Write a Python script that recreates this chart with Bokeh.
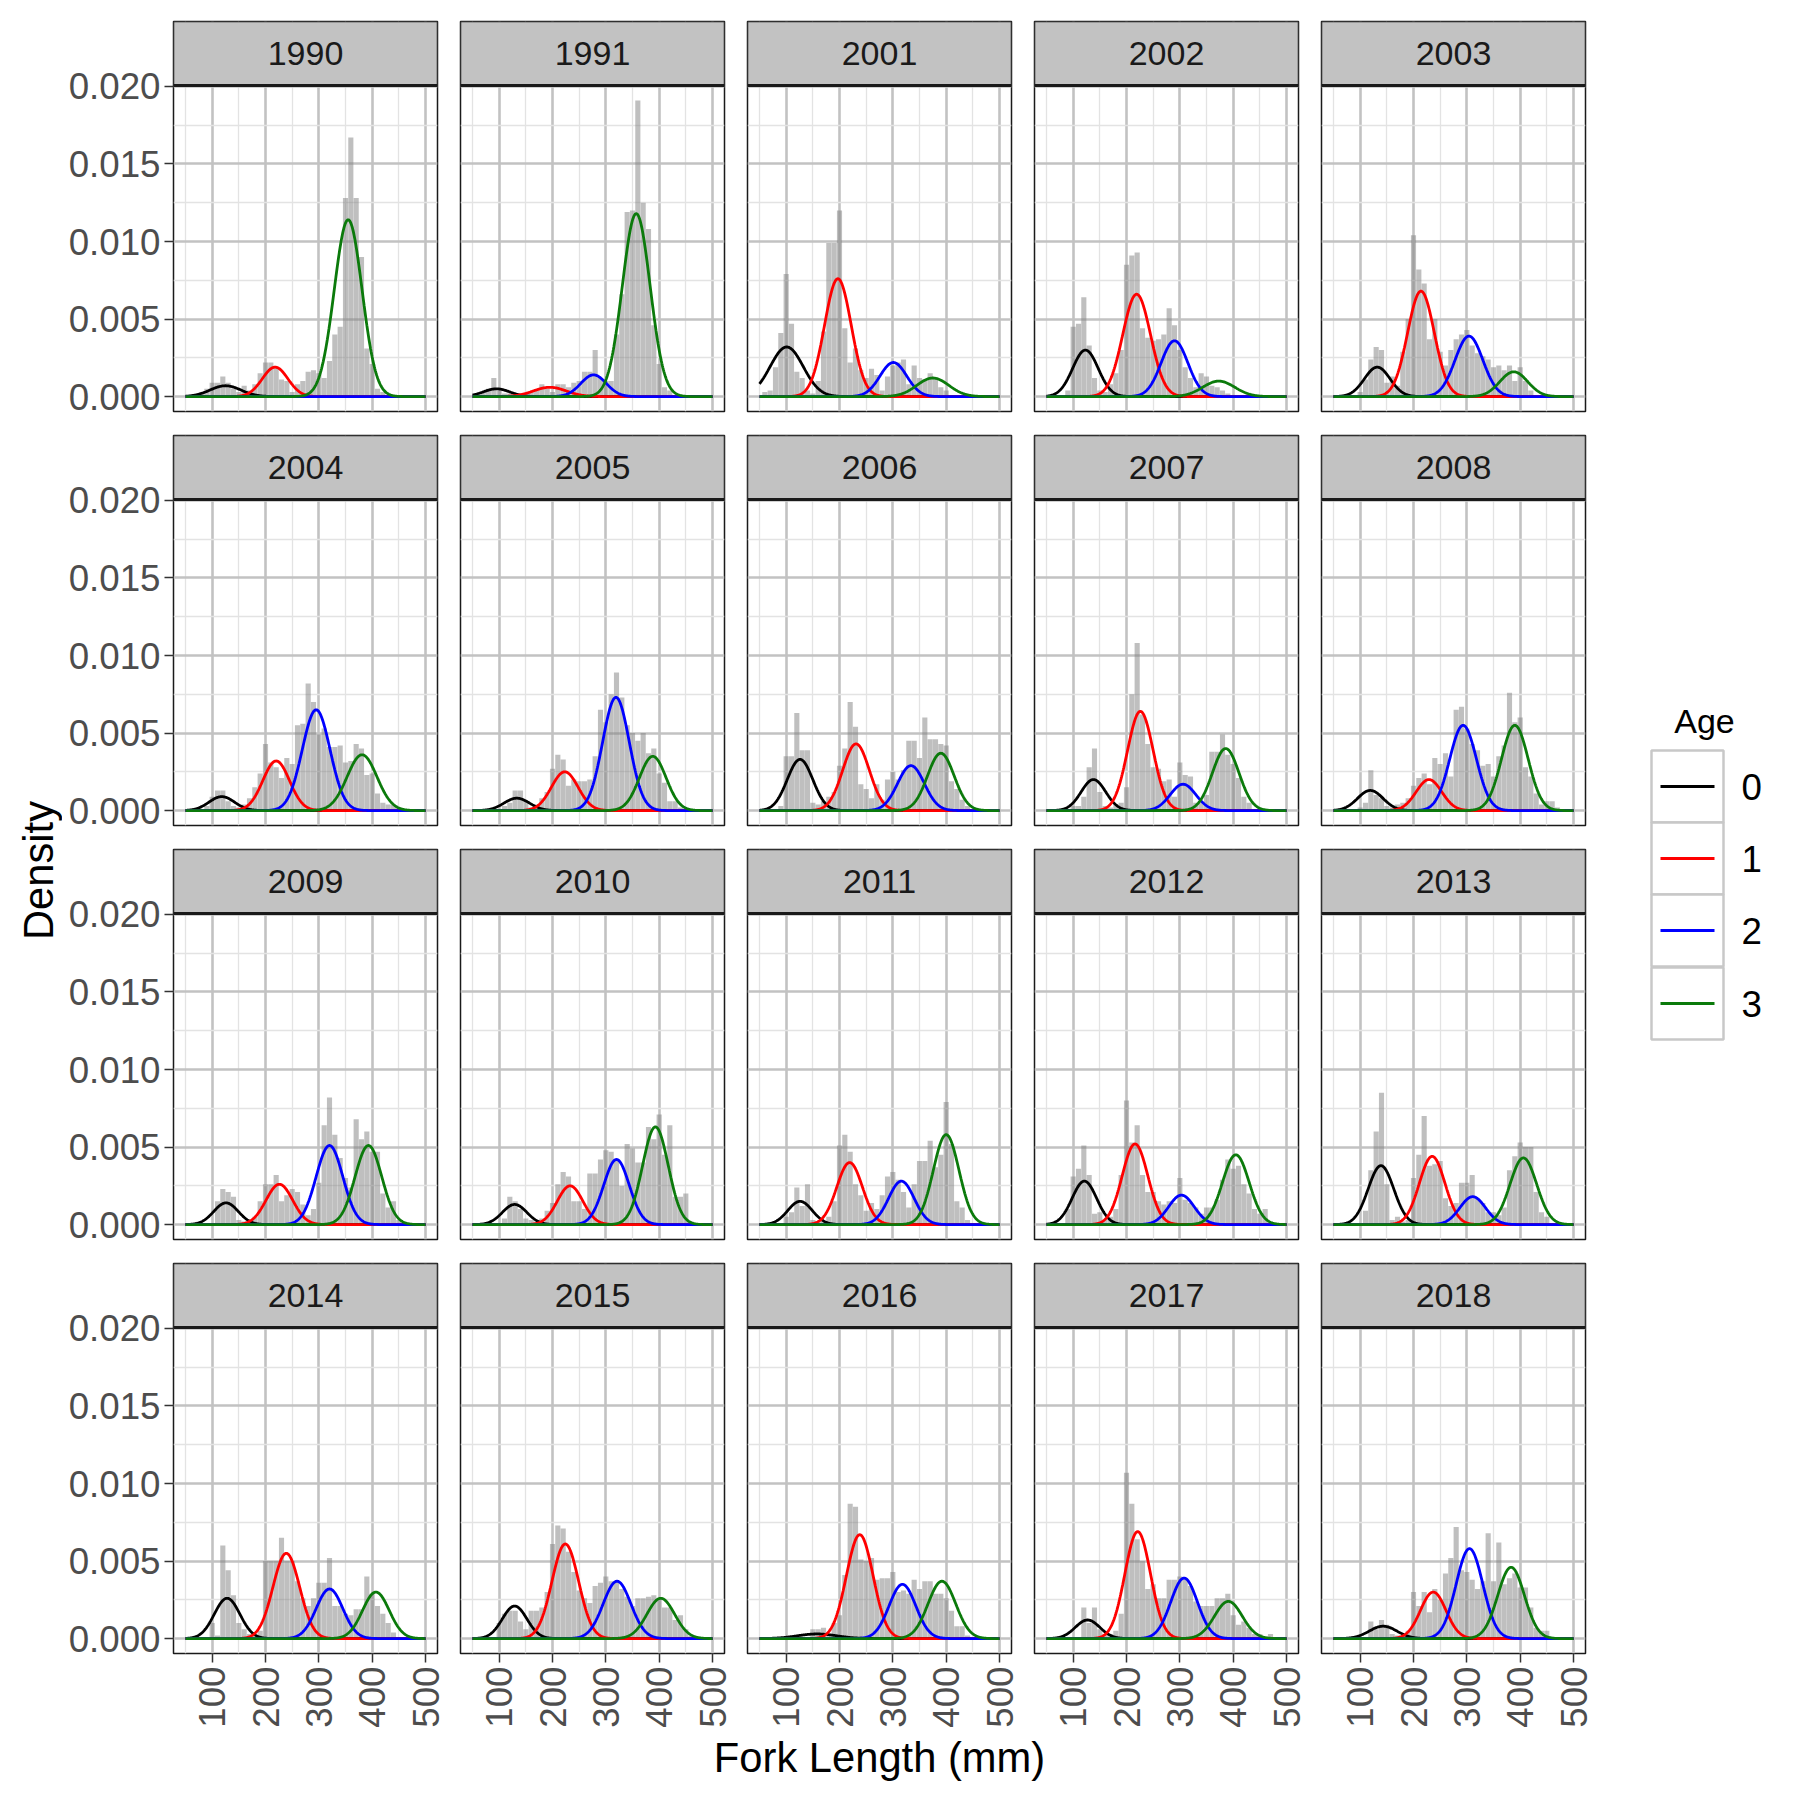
import numpy as np
from math import pi
from bokeh.plotting import figure
from bokeh.layouts import row, column
from bokeh.models import Range1d, FixedTicker, PrintfTickFormatter, Label, Span
from bokeh.embed import file_html
from bokeh.resources import INLINE

# ---------------- data ----------------
years = [1990, 1991, 2001, 2002, 2003, 2004, 2005, 2006, 2007, 2008,
         2009, 2010, 2011, 2012, 2013, 2014, 2015, 2016, 2017, 2018]

bin_centers = list(range(50, 501, 10))   # fork length bins (mm), 46 bins

dens_1990 = [0, 0, 0, .0003, .0005, .0009, .0009, .0013, .0009, .0005, .0003, .0007, .0004, .0008, .0015, .0022, .0022, .0019, .0011, .0010, .0003, .0008, .0010, .0016, .0017, .0015, .0012, .0023, .0040, .0045, .0128, .0167, .0128, .0090, .0031, .0021, .0005, .0003, 0, 0, 0, 0, 0, 0, 0, 0]
dens_1991 = [0, 0, .0003, .0005, .0012, .0004, .0002, .0002, .0001, 0, .0002, .0003, .0004, .0008, .0005, .0003, .0008, .0008, .0006, .0009, .0010, .0016, .0016, .0030, .0012, .0010, .0010, .0040, .0066, .0119, .0120, .0191, .0125, .0108, .0046, .0021, .0006, .0004, 0, 0, 0, 0, 0, 0, 0, 0]
dens_2001 = [0, .0003, .0004, .0019, .0041, .0079, .0047, .0016, .0012, .0004, .0002, .0010, .0042, .0099, .0099, .0120, .0044, .0022, .0031, .0017, .0012, .0018, .0014, .0004, .0013, .0020, .0022, .0024, .0008, .0020, .0012, .0011, .0015, .0012, .0006, .0004, 0, 0, 0, 0, 0, 0, 0, 0, 0, 0]
dens_2002 = [0, 0, 0, 0, .0004, .0045, .0047, .0064, .0033, .0012, .0004, .0003, .0008, .0015, .0030, .0085, .0091, .0093, .0044, .0038, .0036, .0037, .0040, .0057, .0046, .0030, .0019, .0012, .0006, .0015, .0013, .0007, .0006, .0004, .0002, 0, 0, 0, 0, 0, 0, 0, 0, 0, 0, 0]
dens_2003 = [0, 0, 0, 0, 0, .0003, .0011, .0024, .0032, .0030, .0009, .0013, .0007, .0029, .0050, .0104, .0082, .0073, .0037, .0050, .0029, .0020, .0030, .0037, .0040, .0043, .0033, .0028, .0026, .0024, .0019, .0020, .0017, .0020, .0010, .0019, .0010, .0004, 0, 0, 0, 0, 0, 0, 0, 0]
dens_2004 = [0, 0, 0, 0, .0003, .0009, .0013, .0013, .0006, .0003, .0002, .0004, .0008, .0015, .0024, .0043, .0031, .0028, .0021, .0034, .0030, .0055, .0056, .0082, .0070, .0049, .0053, .0041, .0041, .0042, .0031, .0032, .0043, .0040, .0023, .0024, .0011, .0005, .0004, .0004, .0002, 0, 0, 0, 0, 0]
dens_2005 = [0, 0, 0, 0, 0, 0, .0003, .0005, .0013, .0013, .0006, .0002, .0004, .0008, .0012, .0027, .0036, .0033, .0016, .0020, .0019, .0019, .0020, .0035, .0065, .0057, .0075, .0089, .0073, .0055, .0050, .0045, .0050, .0037, .0040, .0024, .0018, .0006, .0006, .0002, 0, 0, 0, 0, 0, 0]
dens_2006 = [0, 0, 0, 0, .0003, .0035, .0035, .0063, .0039, .0039, .0005, .0004, .0006, .0009, .0012, .0029, .0040, .0070, .0054, .0017, .0014, .0008, .0017, .0007, .0020, .0025, .0020, .0026, .0045, .0045, .0034, .0060, .0046, .0046, .0043, .0042, .0019, .0014, .0007, .0003, 0, 0, 0, 0, 0, 0]
dens_2007 = [0, 0, 0, 0, 0, .0003, .0003, .0009, .0028, .0040, .0012, .0003, .0002, .0004, .0005, .0015, .0075, .0108, .0062, .0043, .0028, .0027, .0019, .0020, .0009, .0031, .0023, .0022, .0005, .0005, .0010, .0038, .0038, .0049, .0036, .0030, .0021, .0009, .0005, 0, 0, 0, 0, 0, 0, 0]
dens_2008 = [0, 0, 0, 0, 0, .0002, .0005, .0026, .0010, .0008, .0003, .0002, .0004, .0005, .0008, .0016, .0021, .0024, .0017, .0034, .0030, .0037, .0022, .0065, .0067, .0053, .0043, .0039, .0029, .0030, .0022, .0035, .0042, .0076, .0057, .0060, .0028, .0022, .0011, .0004, .0006, .0006, .0002, 0, 0, 0]
dens_2009 = [0, 0, 0, 0, 0, 0, .0015, .0023, .0021, .0018, .0003, .0002, .0002, .0005, .0015, .0026, .0026, .0032, .0015, .0019, .0023, .0021, .0013, .0006, .0010, .0027, .0064, .0082, .0058, .0043, .0030, .0024, .0068, .0055, .0060, .0047, .0047, .0020, .0011, .0015, .0003, 0, 0, 0, 0, 0]
dens_2010 = [0, 0, 0, 0, 0, 0, .0004, .0018, .0015, .0010, .0004, .0003, .0002, .0004, .0009, .0014, .0026, .0034, .0031, .0015, .0015, .0010, .0033, .0033, .0042, .0048, .0047, .0042, .0025, .0052, .0049, .0040, .0040, .0063, .0055, .0071, .0045, .0064, .0018, .0018, .0020, .0002, 0, 0, 0, 0]
dens_2011 = [0, 0, 0, 0, 0, .0005, .0008, .0024, .0012, .0026, .0003, .0002, .0002, .0005, .0015, .0051, .0058, .0047, .0026, .0019, .0009, .0014, .0010, .0019, .0031, .0034, .0029, .0021, .0011, .0026, .0041, .0041, .0054, .0037, .0045, .0079, .0052, .0015, .0011, .0003, 0, 0, 0, 0, 0, 0]
dens_2012 = [0, 0, 0, 0, .0010, .0031, .0036, .0051, .0032, .0007, .0008, .0003, .0005, .0010, .0032, .0080, .0053, .0064, .0032, .0021, .0021, .0015, .0013, .0015, .0014, .0030, .0016, .0014, .0011, .0007, .0011, .0011, .0016, .0029, .0042, .0036, .0038, .0026, .0020, .0010, .0007, .0010, 0, 0, 0, 0]
dens_2013 = [0, 0, 0, 0, 0, 0, .0009, .0035, .0060, .0085, .0026, .0003, .0005, .0002, .0003, .0030, .0045, .0070, .0038, .0039, .0041, .0017, .0012, .0014, .0027, .0027, .0032, .0017, .0014, .0008, .0008, .0006, .0011, .0035, .0044, .0053, .0050, .0050, .0021, .0008, .0005, 0, 0, 0, 0, 0]
dens_2014 = [0, 0, 0, 0, 0, .0010, .0002, .0060, .0044, .0028, .0010, .0006, .0003, .0003, .0005, .0050, .0050, .0050, .0065, .0050, .0050, .0037, .0026, .0021, .0026, .0036, .0036, .0052, .0021, .0021, .0016, .0015, .0019, .0019, .0040, .0029, .0021, .0016, .0010, .0004, 0, 0, 0, 0, 0, 0]
dens_2015 = [0, 0, 0, 0, 0, .0010, .0016, .0018, .0018, .0011, .0006, .0018, .0018, .0020, .0030, .0061, .0073, .0071, .0056, .0043, .0031, .0026, .0023, .0034, .0036, .0040, .0037, .0037, .0032, .0027, .0021, .0026, .0026, .0027, .0028, .0026, .0020, .0020, .0012, .0015, .0006, .0002, 0, 0, 0, 0]
dens_2016 = [0, 0, 0, 0, 0, 0, 0, 0, 0, 0, .0006, .0006, .0007, .0003, .0010, .0015, .0041, .0087, .0085, .0051, .0050, .0052, .0038, .0039, .0039, .0043, .0030, .0031, .0029, .0038, .0032, .0037, .0037, .0029, .0029, .0026, .0018, .0008, .0008, .0002, 0, 0, 0, 0, 0, 0]
dens_2017 = [0, 0, 0, 0, 0, 0, 0, .0020, .0010, .0020, .0006, .0003, .0003, .0005, .0016, .0107, .0087, .0064, .0050, .0032, .0035, .0026, .0026, .0038, .0038, .0040, .0039, .0034, .0024, .0021, .0021, .0021, .0026, .0026, .0029, .0015, .0009, .0011, .0007, .0003, .0003, .0001, .0003, 0, 0, 0]
dens_2018 = [0, 0, 0, 0, 0, 0, 0, .0011, .0006, .0012, .0009, .0003, .0002, .0002, .0005, .0030, .0021, .0030, .0017, .0032, .0025, .0042, .0052, .0072, .0044, .0043, .0038, .0032, .0037, .0068, .0037, .0062, .0035, .0039, .0042, .0033, .0033, .0020, .0007, .0005, .0005, 0, 0, 0, 0, 0]

# fitted normal components per year (mean mm, sd mm, peak density), one list per age
ages = ["0", "1", "2", "3"]
age_colors = ["#000000", "#FF0000", "#0000FF", "#0B7A0B"]
mu_age0 = [125, 95, 101, 123, 132, 118, 133, 126, 138, 119, 126, 129, 126, 121, 139, 128, 129, 158, 127, 143]
sd_age0 = [29, 25, 31, 24, 24, 24, 24, 24, 23, 24, 23, 23, 23, 23, 24, 24, 23, 37, 23, 26]
pk_age0 = [.0007, .0005, .0032, .0030, .0019, .0009, .0008, .0033, .0020, .0013, .0014, .0013, .0015, .0028, .0038, .0026, .0021, .0003, .0012, .0008]
mu_age1 = [218, 195, 197, 219, 214, 220, 223, 231, 226, 229, 226, 233, 219, 216, 235, 239, 224, 238, 221, 237]
sd_age1 = [24, 31, 25, 26, 25, 25, 25, 25, 24, 24, 25, 24, 24, 24, 24, 25, 25, 25, 24, 24]
pk_age1 = [.0019, .0006, .0076, .0066, .0068, .0032, .0025, .0043, .0064, .0020, .0026, .0025, .0040, .0052, .0044, .0055, .0061, .0067, .0069, .0030]
mu_age2 = [300, 277, 301, 290, 304, 295, 319, 334, 306, 293, 320, 320, 316, 303, 311, 320, 321, 318, 308, 305]
sd_age2 = [25, 24, 25, 25, 26, 26, 25, 25, 24, 25, 25, 24, 24, 24, 24, 25, 26, 25, 25, 25]
pk_age2 = [0, .0014, .0022, .0036, .0039, .0065, .0073, .0029, .0017, .0055, .0051, .0042, .0028, .0019, .0018, .0032, .0037, .0035, .0039, .0058]
mu_age3 = [355, 357, 375, 373, 388, 381, 388, 390, 386, 390, 393, 393, 400, 405, 406, 407, 403, 392, 391, 383]
sd_age3 = [26, 26, 30, 30, 26, 28, 25, 25, 25, 25, 25, 24, 24, 25, 25, 25, 26, 26, 26, 25]
pk_age3 = [.0114, .0118, .0012, .0010, .0016, .0036, .0035, .0037, .0040, .0055, .0051, .0063, .0058, .0045, .0043, .0030, .0026, .0037, .0024, .0046]

x_ticks = [100, 200, 300, 400, 500]
x_minor = [50, 150, 250, 350, 450]
y_ticks = [0.0, 0.005, 0.010, 0.015, 0.020]
y_minor = [0.0025, 0.0075, 0.0125, 0.0175]

dens_by_year = {1990: dens_1990, 1991: dens_1991, 2001: dens_2001, 2002: dens_2002, 2003: dens_2003,
                2004: dens_2004, 2005: dens_2005, 2006: dens_2006, 2007: dens_2007, 2008: dens_2008,
                2009: dens_2009, 2010: dens_2010, 2011: dens_2011, 2012: dens_2012, 2013: dens_2013,
                2014: dens_2014, 2015: dens_2015, 2016: dens_2016, 2017: dens_2017, 2018: dens_2018}
comp = [(mu_age0, sd_age0, pk_age0), (mu_age1, sd_age1, pk_age1),
        (mu_age2, sd_age2, pk_age2), (mu_age3, sd_age3, pk_age3)]

# ---------------- style / layout ----------------
FONT = "Liberation Sans"
TICK_FS = "36.7px"
STRIP_FS = "34px"
TITLE_FS = "41.7px"
LEGT_FS = "34px"
XR = (27.5, 522.5)
Y0, Y1 = -0.00096, 0.02006          # panel (data) y-limits
FW, FH, SH = 264, 326, 64             # frame width, panel height, strip height (px)
Y_STRIP_TOP = Y1 + (Y1 - Y0) * SH / FH
L0, LB, RB = 111, 11, 12
YLAB_W = 62
LEG_W = 190
GRID_H = 21 + 4 * (SH + FH) + 3 * 24 + 80
xs = np.linspace(50, 500, 451)


def style_axis(ax):
    ax.axis_line_color = None
    ax.major_tick_line_color = "#333333"
    ax.major_tick_line_width = 1.5
    ax.major_tick_out = 9
    ax.major_tick_in = 0
    ax.minor_tick_line_color = None
    ax.major_label_text_font = FONT
    ax.major_label_text_font_size = TICK_FS
    ax.major_label_text_color = "#4D4D4D"
    ax.major_label_standoff = 4


def make_facet(k, r, c):
    left = L0 if c == 0 else LB
    top = 21 if r == 0 else 2
    bottom = 80 if r == 3 else 22
    p = figure(width=left + FW + RB, height=top + SH + FH + bottom,
               x_range=Range1d(*XR), y_range=Range1d(Y0, Y_STRIP_TOP),
               x_axis_location="below" if r == 3 else None, y_axis_location="left" if c == 0 else None,
               output_backend="svg", toolbar_location=None,
               min_border_left=left, min_border_right=RB, min_border_top=top, min_border_bottom=bottom)
    p.background_fill_color = "white"
    p.border_fill_color = "white"
    p.outline_line_color = "#1A1A1A"
    p.outline_line_width = 1.5
    for g, t, m in ((p.xgrid, x_ticks, x_minor), (p.ygrid, y_ticks, y_minor)):
        g.ticker = FixedTicker(ticks=t, minor_ticks=m)
        g.grid_line_color = "#C2C2C2"
        g.grid_line_width = 2.6
        g.minor_grid_line_color = "#E3E3E3"
        g.minor_grid_line_width = 1.3
    if c == 0:
        p.yaxis.ticker = FixedTicker(ticks=y_ticks)
        p.yaxis.formatter = PrintfTickFormatter(format="%.3f")
        style_axis(p.yaxis[0])
    if r == 3:
        p.xaxis.ticker = FixedTicker(ticks=x_ticks)
        p.xaxis.major_label_orientation = pi / 2
        style_axis(p.xaxis[0])

    year = years[k]
    p.vbar(x=bin_centers, top=dens_by_year[year], width=9.6, bottom=0,
           fill_color="#7F7F7F", fill_alpha=0.5, line_color=None)
    for a in range(4):
        mu, sd, pk = comp[a][0][k], comp[a][1][k], comp[a][2][k]
        ys = pk * np.exp(-0.5 * ((xs - mu) / sd) ** 2)
        p.line(xs, ys, line_color=age_colors[a], line_width=2.8)

    # facet strip (drawn in the frame above the panel area)
    p.quad(left=[XR[0]], right=[XR[1]], bottom=[Y1], top=[Y_STRIP_TOP],
           fill_color="#C2C2C2", line_color="#1A1A1A", line_width=1.5)
    p.add_layout(Span(location=Y1, dimension="width", line_color="#1A1A1A", line_width=3))
    p.add_layout(Label(x=(XR[0] + XR[1]) / 2, y=(Y1 + Y_STRIP_TOP) / 2, text=str(year),
                       text_align="center", text_baseline="middle",
                       text_font=FONT, text_font_size=STRIP_FS, text_color="#1A1A1A"))
    return p


rows = [row([make_facet(r * 5 + c, r, c) for c in range(5)]) for r in range(4)]
main = column(rows)

# y-axis title
ylab = figure(width=YLAB_W, height=GRID_H, x_range=Range1d(0, YLAB_W), y_range=Range1d(0, GRID_H),
              x_axis_location=None, y_axis_location=None, output_backend="svg", toolbar_location=None,
              min_border=0)
ylab.grid.visible = False
ylab.outline_line_color = None
ylab.add_layout(Label(x=38, y=GRID_H - 870, text="Density", angle=pi / 2, text_align="center",
                      text_baseline="middle", text_font=FONT, text_font_size=TITLE_FS, text_color="black"))

# legend
leg = figure(width=LEG_W, height=GRID_H, x_range=Range1d(0, LEG_W), y_range=Range1d(0, GRID_H),
             x_axis_location=None, y_axis_location=None, output_backend="svg", toolbar_location=None,
             min_border=0)
leg.grid.visible = False
leg.outline_line_color = None
leg_x0 = YLAB_W + L0 + FW + RB + 4 * (LB + FW + RB)
key_left, key_right = 1651 - leg_x0, 1723 - leg_x0
key_tops = [750, 822, 894, 967]
key_h = 72
centers_y = [GRID_H - (t + key_h / 2) for t in key_tops]
leg.rect(x=[(key_left + key_right) / 2] * 4, y=centers_y, width=key_right - key_left, height=key_h,
         fill_color="white", line_color="#C8C8C8", line_width=2.5)
for i in range(4):
    leg.line([1660 - leg_x0, 1714 - leg_x0], [centers_y[i]] * 2, line_color=age_colors[i], line_width=2.8)
    leg.add_layout(Label(x=1741 - leg_x0, y=centers_y[i], text=ages[i], text_align="left",
                         text_baseline="middle", text_font=FONT, text_font_size=TICK_FS, text_color="black"))
leg.add_layout(Label(x=1704 - leg_x0, y=GRID_H - 720, text="Age", text_align="center",
                     text_baseline="middle", text_font=FONT, text_font_size=LEGT_FS, text_color="black"))

top_row = row(ylab, main, leg)

xlab_w = leg_x0
xlab = figure(width=xlab_w, height=50, x_range=Range1d(0, xlab_w), y_range=Range1d(0, 50),
              x_axis_location=None, y_axis_location=None, output_backend="svg", toolbar_location=None,
              min_border=0)
xlab.grid.visible = False
xlab.outline_line_color = None
xlab.add_layout(Label(x=879, y=50 - (1757 - GRID_H), text="Fork Length (mm)", text_align="center",
                      text_baseline="middle", text_font=FONT, text_font_size=TITLE_FS, text_color="black"))

layout = column(top_row, xlab)
open("out.html", "w").write(file_html(layout, INLINE))
